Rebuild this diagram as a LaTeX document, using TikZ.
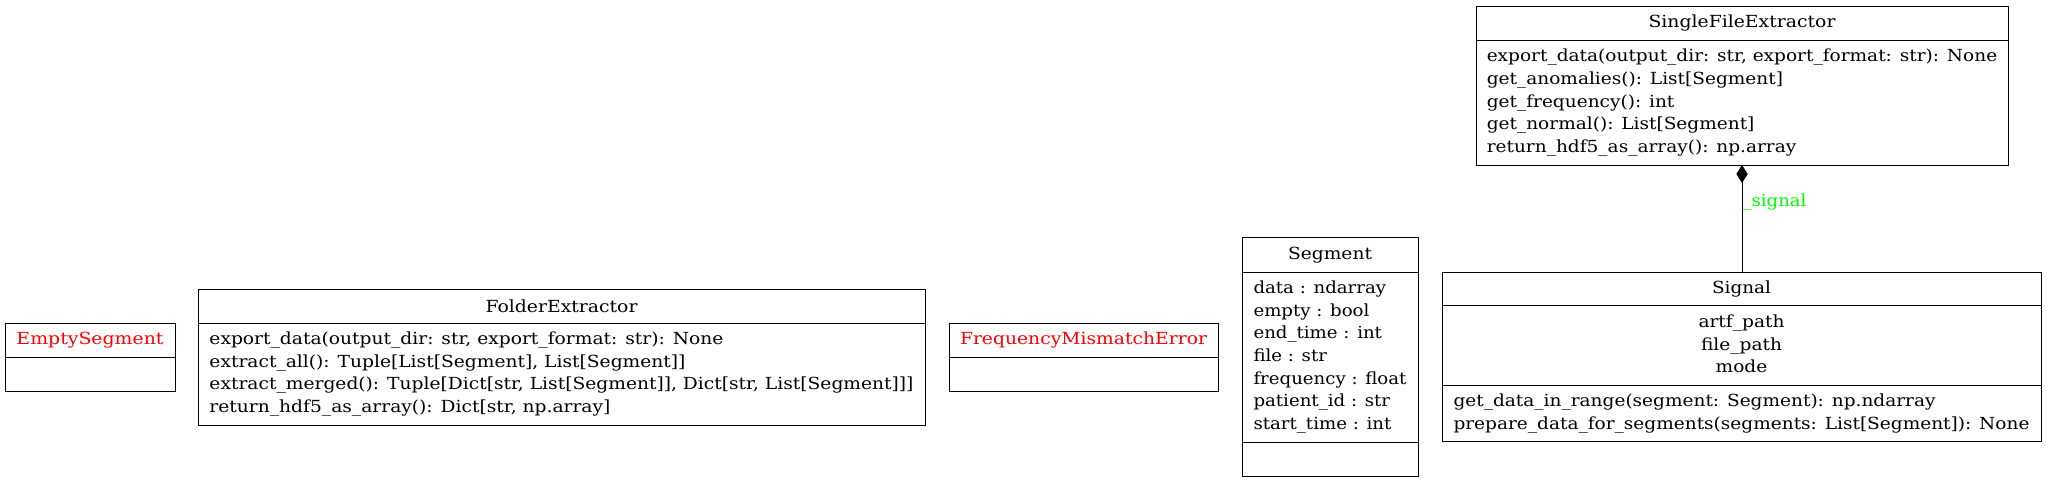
\documentclass[tikz,border=0pt]{standalone}
\usepackage{fontspec}
\usepackage{graphicx}
\setmainfont{DejaVu Serif}
\usetikzlibrary{positioning,arrows.meta}
\definecolor{errred}{RGB}{255,0,0}
\definecolor{rolegreen}{RGB}{0,255,0}
% text squeezed or stretched to the width the class box gives it
\newcommand{\fittext}[2]{\resizebox{#1}{\height}{#2}}
\newcommand{\fitlines}[2]{\resizebox{#1}{\height}{\begin{tabular}{@{}l@{}}#2\end{tabular}}}
\newcommand{\fitcentre}[2]{\resizebox{#1}{\height}{\begin{tabular}{@{}c@{}}#2\end{tabular}}}
\begin{document}
\begin{tikzpicture}[x=0.75pt,y=-0.75pt,node distance=0pt,
    every node/.style={font=\fontsize{12.5pt}{17pt}\selectfont},
    title node/.style={draw,line width=0.75pt,inner sep=0pt,outer sep=0pt,minimum height=25.5pt},
    body node/.style={draw,line width=0.75pt,inner sep=0pt,outer sep=0pt}]
        \useasboundingbox (0,0) rectangle (2047,483);

        % EmptySegment
        \node[title node, minimum width=127.5pt, text=errred] at (90, 340) (es) {\fittext{110.25pt}{EmptySegment}};
        \node[body node, minimum width=127.5pt, minimum height=25.5pt, below=of es] (es m) {};

        % FolderExtractor
        \node[title node, minimum width=545.25pt] at (561.5, 306) (fe) {\fittext{114pt}{FolderExtractor}};
        \node[body node, minimum width=545.25pt, minimum height=76.5pt, below=of fe] (fe m) {\fitlines{528pt}{export\_data(output\_dir: str, export\_format: str): None\\
            extract\_all(): Tuple[List[Segment], List[Segment]]\\
            extract\_merged(): Tuple[Dict[str, List[Segment]], Dict[str, List[Segment]]]\\
            return\_hdf5\_as\_array(): Dict[str, np.array]}};

        % FrequencyMismatchError
        \node[title node, minimum width=201.75pt, text=errred] at (1083.5, 340) (fme) {\fittext{185.25pt}{FrequencyMismatchError}};
        \node[body node, minimum width=201.75pt, minimum height=25.5pt, below=of fme] (fme m) {};

        % Segment
        \node[title node, minimum width=132pt, minimum height=25.9pt] at (1330, 254.75) (seg) {\fittext{63pt}{Segment}};
        \node[body node, minimum width=132pt, minimum height=127.5pt, below=of seg] (seg a) {\fitlines{114.75pt}{data : ndarray\\
            empty : bool\\
            end\_time : int\\
            file : str\\
            frequency : float\\
            patient\_id : str\\
            start\_time : int}};
        \node[body node, minimum width=132pt, minimum height=25.5pt, below=of seg a] (seg m) {};

        % Signal
        \node[title node, minimum width=449.25pt, minimum height=25.25pt] at (1741.5, 288.9) (sig) {\fittext{44.25pt}{Signal}};
        \node[body node, minimum width=449.25pt, minimum height=60pt, below=of sig] (sig a) {\fitcentre{64.5pt}{artf\_path\\
            file\_path\\
            mode}};
        \node[body node, minimum width=449.25pt, minimum height=42pt, below=of sig a] (sig m) {\fitlines{432pt}{get\_data\_in\_range(segment: Segment): np.ndarray\\
            prepare\_data\_for\_segments(segments: List[Segment]): None}};

        % SingleFileExtractor
        \node[title node, minimum width=399pt] at (1742, 23) (sfe) {\fittext{140.25pt}{SingleFileExtractor}};
        \node[body node, minimum width=399pt, minimum height=93.75pt, below=of sfe] (sfe m) {\fitlines{382.9pt}{export\_data(output\_dir: str, export\_format: str): None\\
            get\_anomalies(): List[Segment]\\
            get\_frequency(): int\\
            get\_normal(): List[Segment]\\
            return\_hdf5\_as\_array(): np.array}};

        \path[line width=0.75pt]
            (sfe m.south) edge[{Diamond[length=13.5pt,width=8.5pt]}-] node[pos=0.35, anchor=west, inner sep=0pt, text=rolegreen] {\fittext{48pt}{\_signal}} (sfe m.south |- sig.north)
            ;
        \end{tikzpicture}
\end{document}
